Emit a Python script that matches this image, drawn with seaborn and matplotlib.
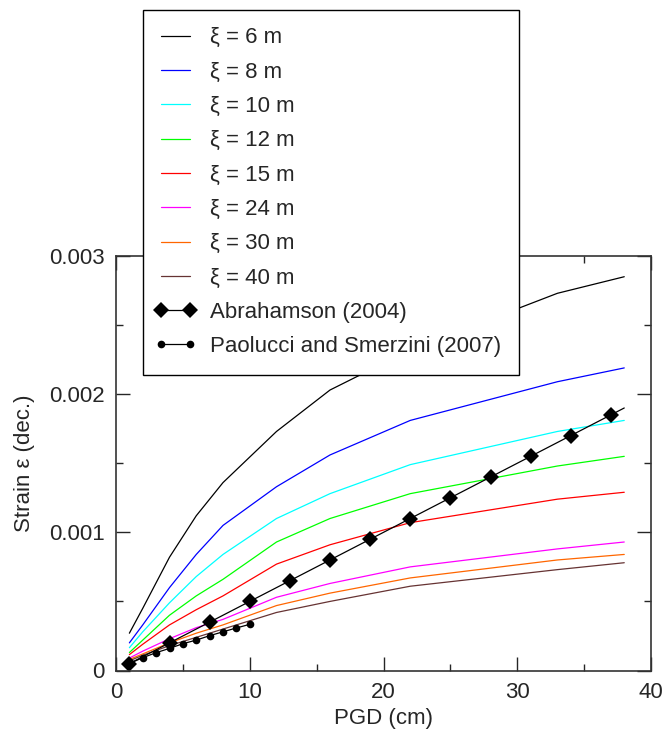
import matplotlib
matplotlib.use("Agg")
import matplotlib.pyplot as plt
import seaborn as sns
from matplotlib.legend_handler import HandlerLine2D
from matplotlib.lines import Line2D
from matplotlib.ticker import FuncFormatter, MultipleLocator

# PGD sample points (cm) for the analytical curves
pgd = [1, 2, 4, 6, 8, 12, 16, 22, 33, 38]

xi_labels = ["ξ = 6 m", "ξ = 8 m", "ξ = 10 m", "ξ = 12 m",
             "ξ = 15 m", "ξ = 24 m", "ξ = 30 m", "ξ = 40 m"]
xi_colors = ["black", "#0000ff", "#00ffff", "#00ff00",
             "#ff0000", "#ff00ff", "#ff6600", "#663333"]

strain_6 = [0.00027, 0.00045, 0.00082, 0.00112, 0.00136, 0.00173, 0.00203, 0.00232, 0.00273, 0.00285]
strain_8 = [0.00020, 0.00033, 0.00060, 0.00084, 0.00105, 0.00133, 0.00156, 0.00181, 0.00209, 0.00219]
strain_10 = [0.000165, 0.00028, 0.00049, 0.00068, 0.00084, 0.00110, 0.00128, 0.00149, 0.00173, 0.00181]
strain_12 = [0.00013, 0.00022, 0.00040, 0.00054, 0.00066, 0.00093, 0.00110, 0.00128, 0.00148, 0.00155]
strain_15 = [0.000115, 0.00019, 0.00033, 0.00044, 0.00054, 0.00077, 0.00091, 0.00107, 0.00124, 0.00129]
strain_24 = [0.00009, 0.00014, 0.00023, 0.00031, 0.00037, 0.00053, 0.00063, 0.00075, 0.00088, 0.00093]
strain_30 = [0.00008, 0.00012, 0.00020, 0.00027, 0.00033, 0.00047, 0.00056, 0.00067, 0.00080, 0.00084]
strain_40 = [0.00007, 0.00011, 0.00018, 0.00024, 0.00030, 0.00042, 0.00050, 0.00061, 0.00073, 0.00078]
xi_series = [strain_6, strain_8, strain_10, strain_12,
             strain_15, strain_24, strain_30, strain_40]

# Abrahamson (2004)
abr_pgd = [1, 4, 7, 10, 13, 16, 19, 22, 25, 28, 31, 34, 37, 38]
abr_strain = [0.00005, 0.0002, 0.00035, 0.0005, 0.00065, 0.0008, 0.00095,
              0.0011, 0.00125, 0.0014, 0.00155, 0.0017, 0.00185, 0.0019]

# Paolucci and Smerzini (2007)
ps_pgd = [1, 2, 3, 4, 5, 6, 7, 8, 9, 10]
ps_strain = [0.00005, 0.000093, 0.000129, 0.00016, 0.000194,
             0.00022, 0.000252, 0.00028, 0.000308, 0.000334]


def fmt_strain(v, pos):
    if abs(v) < 1e-12:
        return "0"
    return f"{v:.3f}"


def plot() -> None:
    sns.set_style("ticks")
    plt.rcParams["font.family"] = ["Liberation Sans", "DejaVu Sans"]
    plt.rcParams["font.size"] = 16

    fig = plt.figure(figsize=(6.67, 7.36), dpi=100)
    ax = fig.add_axes([116 / 667, 1 - 670.5 / 736, 535 / 667, 414.5 / 736])

    for label, color, values in zip(xi_labels, xi_colors, xi_series):
        sns.lineplot(x=pgd, y=values, ax=ax, color=color, linewidth=0.9, label=label)

    sns.lineplot(x=abr_pgd, y=abr_strain, ax=ax, color="black", linewidth=0.9,
                 marker="D", markersize=8.5, markeredgewidth=0,
                 markevery=list(range(13)), label="Abrahamson (2004)")
    sns.lineplot(x=ps_pgd, y=ps_strain, ax=ax, color="black", linewidth=0.9,
                 marker="o", markersize=5.5, markeredgewidth=0,
                 label="Paolucci and Smerzini (2007)")

    ax.set_xlim(0, 40)
    ax.set_ylim(0, 0.003)
    ax.xaxis.set_major_locator(MultipleLocator(10))
    ax.xaxis.set_minor_locator(MultipleLocator(5))
    ax.yaxis.set_major_locator(MultipleLocator(0.001))
    ax.yaxis.set_minor_locator(MultipleLocator(0.0005))
    ax.yaxis.set_major_formatter(FuncFormatter(fmt_strain))
    ax.tick_params(which="both", direction="in", top=True, right=True,
                   width=1, labelsize=16, pad=8)
    ax.tick_params(which="major", length=10)
    ax.tick_params(which="minor", length=5)
    for spine in ax.spines.values():
        spine.set_linewidth(1.2)
        spine.set_color("#333333")

    ax.set_xlabel("PGD (cm)", fontsize=16, labelpad=4)
    ax.set_ylabel("Strain ε (dec.)", fontsize=16, labelpad=10)

    leg = ax.legend(loc="upper left", bbox_to_anchor=(143 / 667, 1 - 9.5 / 736),
                    bbox_transform=fig.transFigure, borderaxespad=0,
                    fontsize=16, numpoints=2, handlelength=1.3, handletextpad=0.9,
                    labelspacing=0.60, borderpad=0.8, fancybox=False,
                    framealpha=1, edgecolor="black",
                    handler_map={Line2D: HandlerLine2D(marker_pad=0, numpoints=2)})
    leg.get_frame().set_linewidth(1.0)

    fig.savefig("out.png", dpi=100)
    plt.close(fig)


def main() -> None:
    plot()


if __name__ == "__main__":
    main()
